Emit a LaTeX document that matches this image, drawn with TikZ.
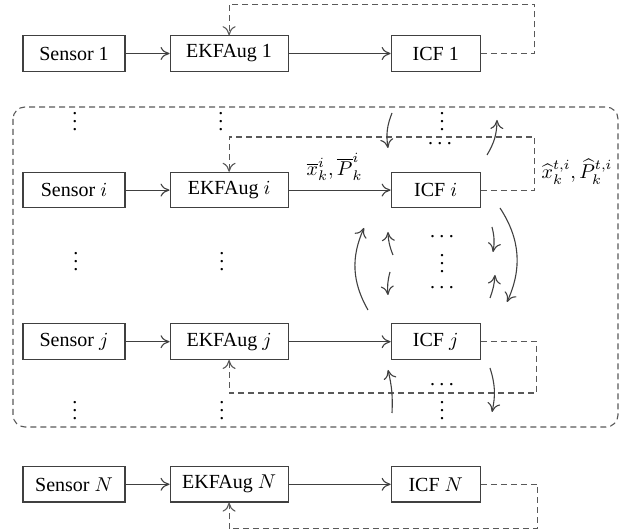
\documentclass[tikz,border=0pt]{standalone}
\usepackage{fontspec}
\setmainfont{Liberation Serif}
\usetikzlibrary{arrows.meta,positioning}

\newcommand{\vdts}{\vbox{\baselineskip4pt\lineskiplimit0pt\hbox{.}\hbox{.}\hbox{.}}}
\newcommand{\hdts}{\hbox{.\kern2.2pt.\kern2.2pt.}}

\begin{document}
\begin{tikzpicture}[x=0.5pt,y=-0.5pt,>={To[length=4.5pt,width=6.5pt]},
  node distance=50pt and 22pt,
  box/.style={draw=black!75,line width=0.55pt,minimum height=17.75pt,
  inner sep=2pt,font=\fontsize{10}{12}\selectfont},
  sensorbox/.style={box,minimum width=51pt},
  ekfbox/.style={box,minimum width=59pt},
  icfbox/.style={box,minimum width=44.5pt},
  link/.style={draw=black!75,line width=0.55pt},
  fb/.style={draw=black!65,line width=0.55pt,dash pattern=on 3pt off 2pt},
  turn/.style={draw=black!75,line width=0.55pt},
  dots/.style={inner sep=0pt}]
\useasboundingbox (0,0) rectangle (623,529);

% first row
\node[sensorbox] (sensor1) at (74,53.5) {Sensor 1};
\node[ekfbox,right=of sensor1] (ekf1) {EKFAug 1};
\node[icfbox,right=51pt of ekf1] (icf1) {ICF 1};
% rows i, j and N
\node[sensorbox,below=of sensor1] (sensori) {Sensor $i$};
\node[ekfbox,below=of ekf1] (ekfi) {EKFAug $i$};
\node[icfbox,below=of icf1] (icfi) {ICF $i$};
\node[sensorbox,below=57.5pt of sensori] (sensorj) {Sensor $j$};
\node[ekfbox,below=57.5pt of ekfi] (ekfj) {EKFAug $j$};
\node[icfbox,below=57.5pt of icfi] (icfj) {ICF $j$};
\node[sensorbox,below=53pt of sensorj] (sensorN) {Sensor $N$};
\node[ekfbox,below=53pt of ekfj] (ekfN) {EKFAug $N$};
\node[icfbox,below=53pt of icfj] (icfN) {ICF $N$};

\foreach \r in {1,i,j,N}
  \draw[link,->] (sensor\r) -- (ekf\r);
\draw[link,->] (ekf1) -- (icf1);
\draw[link,->] (ekfi) -- node[above=1pt,pos=0.45] (prior) {$\overline{x}_k^i, \overline{P}_k^i$} (icfi);
\draw[link,->] (ekfj) -- (icfj);
\draw[link,->] (ekfN) -- (icfN);

% feedback of the fused estimate
\draw[fb,->] (icf1.east) -- ++(27pt,0) |- ([yshift=15.5pt]ekf1.north) -- (ekf1.north);
\draw[fb,->] (icfi.east) -- ++(27pt,0) |- ([yshift=17.4pt]ekfi.north) -- (ekfi.north);
\draw[fb,->] (icfj.east) -- ++(28pt,0) |- ([yshift=-16.5pt]ekfj.south) -- (ekfj.south);
\draw[fb,->] (icfN.east) -- ++(28.5pt,0) |- ([yshift=-13.2pt]ekfN.south) -- (ekfN.south);
\node (fused) at (577,172) {$\widehat{x}_k^{t,i}, \widehat{P}_k^{t,i}$};

% group of sensors i..j
\draw[fb,rounded corners=6pt] (13,107) rectangle (618,427);

\node[dots] (vs0) at (75,122) {\vdts};
\node[dots] (ve0) at (221,122) {\vdts};
\node[dots] (vc0) at (442,122) {\vdts};
\node[dots] (vs1) at (76,262) {\vdts};
\node[dots] (ve1) at (222,262) {\vdts};
\node[dots] (vc1) at (442,264) {\vdts};
\node[dots] (vs2) at (75,411) {\vdts};
\node[dots] (ve2) at (222,411) {\vdts};
\node[dots] (vc2) at (442,411) {\vdts};
\node[dots] (hc0) at (440,144) {\hdts};
\node[dots] (hc1) at (442,237) {\hdts};
\node[dots] (hc2) at (442,288) {\hdts};
\node[dots] (hc3) at (442,385) {\hdts};

% exchange between the filters
\foreach \xa/\ya/\xb/\yb/\bend [count=\n] in {
  392/113/388/148/-15, 487/155/497/120/-15, 368/310/364/228/27,
  393/255/388/232/10, 390/272/388/295/-10, 492/227/493/252/12,
  490/298/495/275/-8, 500/208/507/302/29, 392/413/388/370/-8,
  490/368/492/412/15}{
  \coordinate (ta\n) at (\xa,\ya);
  \coordinate (tb\n) at (\xb,\yb);
  \draw[turn,->] (ta\n) to[bend left=\bend] (tb\n);
}
\end{tikzpicture}
\end{document}
